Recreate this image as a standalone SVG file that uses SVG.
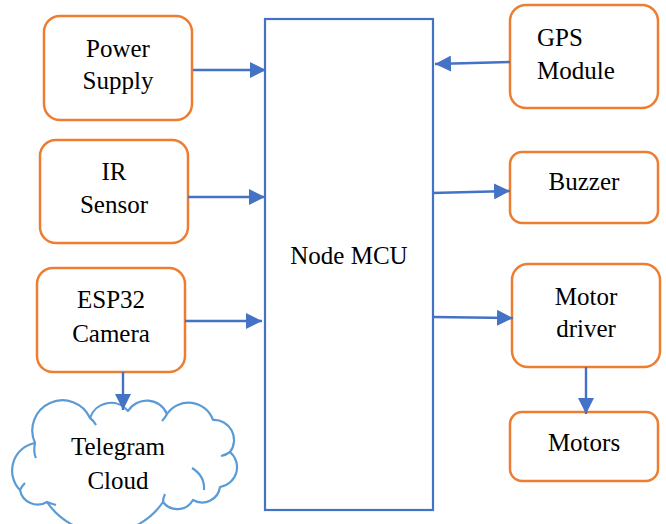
<svg xmlns="http://www.w3.org/2000/svg" width="666" height="524" viewBox="0 0 666 524">
<defs>
<style>
.box{fill:#fff;stroke:#ED7D31;stroke-width:2.5}
.mcu{fill:#fff;stroke:#4472C4;stroke-width:2.2}
.cloud{fill:#fff;stroke:#5B9BD5;stroke-width:2.2;stroke-linejoin:round}
.curl{fill:none;stroke:#5B9BD5;stroke-width:2.2}
.lnk{fill:none;stroke:#4472C4;stroke-width:2.4}
text{font-family:"Liberation Serif","Times New Roman",serif;font-size:25px;fill:#000}
.c{text-anchor:middle}
</style>
<marker id="ah" markerUnits="userSpaceOnUse" markerWidth="16" markerHeight="16" viewBox="0 0 14 14" refX="14" refY="7" orient="auto">
<path d="M0,0 L14,7 L0,14 Z" fill="#4472C4"/>
</marker>
</defs>
<rect width="666" height="524" fill="#fff"/>
<g id="mcu"><rect class="mcu" x="265" y="19" width="168" height="491"/><text class="c" x="349" y="264">Node MCU</text></g>
<g id="power"><rect class="box" x="44" y="16" width="148" height="104" rx="16"/><text class="c" x="118" y="57">Power</text><text class="c" x="118" y="89">Supply</text></g>
<g id="ir"><rect class="box" x="40" y="140" width="148" height="103" rx="16"/><text class="c" x="114" y="180">IR</text><text class="c" x="114" y="213">Sensor</text></g>
<g id="esp"><rect class="box" x="37" y="268" width="148" height="104" rx="16"/><text class="c" x="111" y="308">ESP32</text><text class="c" x="111" y="342">Camera</text></g>
<g id="gps"><rect class="box" x="510" y="5" width="148" height="103" rx="16"/><text x="537" y="46">GPS</text><text x="537" y="79">Module</text></g>
<g id="buzzer"><rect class="box" x="510" y="152" width="148" height="71" rx="12"/><text class="c" x="584" y="190">Buzzer</text></g>
<g id="driver"><rect class="box" x="512" y="264" width="148" height="103" rx="16"/><text class="c" x="586" y="305">Motor</text><text class="c" x="586" y="337">driver</text></g>
<g id="motors"><rect class="box" x="510" y="412" width="148" height="69" rx="12"/><text class="c" x="584" y="451">Motors</text></g>
<g id="cloud">
<path class="cloud" d="M20,490 A28,28 0 0 1 35,443 A30,30 0 0 1 90,418 A22,22 0 0 1 128,411 A22,22 0 0 1 167,414 A26,26 0 0 1 213,420 A20,20 0 0 1 230,452 A20,20 0 0 1 220,487 A18,18 0 0 1 193,500 A18,18 0 0 1 163,502 A70,70 0 0 1 47,502 A18,18 0 0 1 20,490 Z"/>
<path class="curl" d="M35,443 Q33,452 36,458"/>
<path class="curl" d="M90,418 Q94,421 96,425"/>
<path class="curl" d="M167,414 Q165,418 162,421"/>
<path class="curl" d="M230,452 Q226,455 221,456"/>
<path class="curl" d="M192,468 Q205,476 204,490"/>
<path class="curl" d="M163,502 Q163,498 165,494"/>
<path class="curl" d="M47,502 Q52,504 56,505"/>
<path class="curl" d="M20,490 Q22,486 25,483"/>
<text class="c" x="118" y="455">Telegram</text><text class="c" x="118" y="489">Cloud</text>
</g>
<g id="connectors">
<line class="lnk" x1="193" y1="70" x2="266" y2="70" marker-end="url(#ah)"/>
<line class="lnk" x1="188" y1="197" x2="265" y2="197" marker-end="url(#ah)"/>
<line class="lnk" x1="185" y1="321" x2="262" y2="321" marker-end="url(#ah)"/>
<line class="lnk" x1="510" y1="62" x2="435" y2="64" marker-end="url(#ah)"/>
<line class="lnk" x1="432" y1="193" x2="510" y2="191" marker-end="url(#ah)"/>
<line class="lnk" x1="433" y1="317" x2="513" y2="318" marker-end="url(#ah)"/>
<line class="lnk" x1="586" y1="367" x2="586" y2="414" marker-end="url(#ah)"/>
<line class="lnk" x1="123" y1="372" x2="123" y2="410" marker-end="url(#ah)"/>
</g>
</svg>
